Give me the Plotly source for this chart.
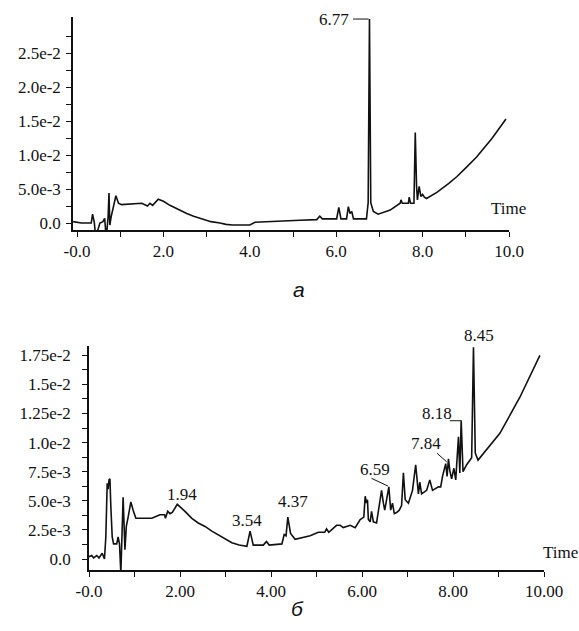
import plotly.graph_objects as go

# ---------------- data: chromatogram (a) ----------------
a_time = [-0.09, 0.0, 0.1, 0.2, 0.33, 0.36, 0.40, 0.42, 0.47, 0.53, 0.6, 0.64, 0.665, 0.69, 0.72,
          0.74, 0.76, 0.79, 0.82, 0.86, 0.9, 0.96, 1.03, 1.5, 1.63, 1.69, 1.75, 1.88, 2.0, 2.15,
          2.3, 2.54, 2.7, 2.92, 3.1, 3.31, 3.45, 3.6, 3.8, 4.0, 4.12, 4.93, 5.16, 5.55, 5.62, 5.68,
          6.01, 6.06, 6.11, 6.24, 6.28, 6.32, 6.36, 6.4, 6.7, 6.74, 6.77, 6.80, 6.86, 6.97, 7.25,
          7.48, 7.5, 7.53, 7.67, 7.69, 7.72, 7.8, 7.83, 7.86, 7.88, 7.92, 7.96, 8.0, 8.04, 8.09,
          8.33, 8.6, 8.79, 9.0, 9.25, 9.6, 9.93]
a_signal = [0.0002, 0.0001, 0.0, 0.0, 0.0, 0.0013, 0.0001, -0.0013, -0.0013, 0.0, 0.0002, 0.0007,
            -0.0013, -0.0013, 0.0009, 0.0044, -0.0003, 0.0009, 0.0019, 0.0029, 0.004, 0.0029,
            0.0027, 0.0029, 0.0025, 0.0029, 0.0026, 0.0035, 0.0032, 0.0026, 0.0021, 0.0014, 0.001,
            0.0005, 0.0002, 0.0, -0.0002, -0.0003, -0.0003, -0.0003, 0.0001, 0.0004, 0.0004,
            0.0005, 0.001, 0.0006, 0.0006, 0.0023, 0.0006, 0.0006, 0.0024, 0.0014, 0.0017, 0.0006,
            0.0006, 0.003, 0.030, 0.003, 0.0017, 0.0013, 0.0019, 0.0029, 0.0034, 0.0029, 0.0029,
            0.0038, 0.0029, 0.0029, 0.0133, 0.0054, 0.0034, 0.0054, 0.0039, 0.0042, 0.0038, 0.0036,
            0.0045, 0.0058, 0.0068, 0.0081, 0.0097, 0.0124, 0.0153]

a_peak_labels = ["6.77"]

a_xtick_vals = [0, 1, 2, 3, 4, 5, 6, 7, 8, 9, 10]
a_xtick_text = ["-0.0", "", "2.0", "", "4.0", "", "6.0", "", "8.0", "", "10.0"]
a_ytick_vals = [0, 0.0025, 0.005, 0.0075, 0.01, 0.0125, 0.015, 0.0175, 0.02, 0.0225, 0.025, 0.0275]
a_ytick_text = ["0.0", "", "5.0e-3", "", "1.0e-2", "", "1.5e-2", "", "2.0e-2", "", "2.5e-2", ""]

# ---------------- data: chromatogram (б) ----------------
b_time = [0.0, 0.06, 0.10, 0.17, 0.22, 0.29, 0.34, 0.37, 0.40, 0.42, 0.44, 0.46, 0.48, 0.51, 0.54,
          0.61, 0.64, 0.67, 0.70, 0.72, 0.75, 0.79, 0.82, 0.86, 0.92, 0.97, 1.03, 1.38, 1.56, 1.66,
          1.68, 1.73, 1.78, 1.83, 1.94, 2.11, 2.26, 2.4, 2.55, 2.7, 2.84, 3.0, 3.14, 3.3, 3.47,
          3.54, 3.61, 3.83, 3.9, 3.96, 4.24, 4.29, 4.33, 4.37, 4.43, 4.53, 4.86, 5.04, 5.18, 5.22,
          5.27, 5.44, 5.52, 5.59, 5.74, 5.85, 5.96, 6.04, 6.07, 6.1, 6.12, 6.14, 6.18, 6.21, 6.25,
          6.32, 6.38, 6.43, 6.47, 6.5, 6.59, 6.63, 6.67, 6.71, 6.76, 6.82, 6.87, 6.91, 6.95, 7.02,
          7.11, 7.18, 7.24, 7.27, 7.31, 7.42, 7.49, 7.55, 7.68, 7.73, 7.77, 7.84, 7.87, 7.9, 7.93,
          7.97, 8.02, 8.06, 8.12, 8.15, 8.18, 8.22, 8.3, 8.41, 8.45, 8.49, 8.55, 9.03, 9.47, 9.69,
          9.91]
b_signal = [0.0002, 0.0003, 0.0001, 0.0003, 0.0001, 0.0005, 0.0, 0.0019, 0.0065, 0.006, 0.0068,
            0.0069, 0.0045, 0.0019, 0.0013, 0.0013, 0.0019, 0.0013, -0.0012, 0.0016, 0.0053, 0.0008,
            0.0028, 0.0036, 0.0049, 0.0042, 0.0035, 0.0035, 0.0038, 0.0038, 0.0035, 0.0041, 0.0039,
            0.004, 0.0047, 0.0041, 0.0035, 0.0031, 0.0028, 0.0024, 0.0021, 0.0017, 0.0014, 0.0012,
            0.0011, 0.0024, 0.0012, 0.0012, 0.0015, 0.0012, 0.0013, 0.0021, 0.002, 0.0036, 0.0022,
            0.0017, 0.002, 0.0023, 0.0023, 0.0026, 0.0023, 0.0029, 0.0029, 0.0027, 0.0029, 0.0027,
            0.0034, 0.0036, 0.0054, 0.0048, 0.0051, 0.0034, 0.0032, 0.0041, 0.0032, 0.0031, 0.0048,
            0.0059, 0.0048, 0.0042, 0.0062, 0.0042, 0.0048, 0.0039, 0.004, 0.0042, 0.0046, 0.0074,
            0.0051, 0.0048, 0.0059, 0.0081, 0.0056, 0.0066, 0.0056, 0.0059, 0.0068, 0.0059, 0.0062,
            0.0062, 0.0071, 0.0082, 0.0071, 0.0086, 0.0076, 0.0069, 0.0078, 0.0068, 0.0105, 0.0074,
            0.0119, 0.0075, 0.0081, 0.0087, 0.0182, 0.0091, 0.0085, 0.0108, 0.0139, 0.0157, 0.0175]

b_peak_labels = ["1.94", "3.54", "4.37", "6.59", "7.84", "8.18", "8.45"]

b_xtick_vals = [0, 1, 2, 3, 4, 5, 6, 7, 8, 9, 10]
b_xtick_text = ["-0.0", "", "2.00", "", "4.00", "", "6.00", "", "8.00", "", "10.00"]
b_ytick_vals = [i * 0.00125 for i in range(15)]
b_ytick_text = ["0.0", "", "2.5e-3", "", "5.0e-3", "", "7.5e-3", "", "1.0e-2", "", "1.25e-2", "",
                "1.5e-2", "", "1.75e-2"]

# ---------------- figure ----------------
W, H = 579, 631
SERIF = "Times New Roman, Liberation Serif, serif"
SANS = "Arial, Liberation Sans, sans-serif"
INK = "#111111"

fig = go.Figure()
fig.add_trace(go.Scatter(x=a_time, y=a_signal, mode="lines", xaxis="x", yaxis="y",
                         line=dict(color=INK, width=1.6), showlegend=False, hoverinfo="skip"))
fig.add_trace(go.Scatter(x=b_time, y=b_signal, mode="lines", xaxis="x2", yaxis="y2",
                         line=dict(color=INK, width=1.6), showlegend=False, hoverinfo="skip"))

tickfont = dict(family=SERIF, size=17, color=INK)
common_axis = dict(showgrid=False, zeroline=False, showline=True, linecolor=INK, linewidth=1.5,
                   ticks="outside", ticklen=5, tickwidth=1.2, tickcolor=INK, tickfont=tickfont,
                   tickmode="array", automargin=False)

def px_dom_x(a, b):
    return [a / W, b / W]

def px_dom_y(top, bottom):
    return [1 - bottom / H, 1 - top / H]

fig.update_layout(
    template="none",
    font=dict(family=SERIF, size=17, color=INK),
    width=W, height=H, margin=dict(l=0, r=0, t=0, b=0, autoexpand=False),
    paper_bgcolor="white", plot_bgcolor="white",
    xaxis=dict(common_axis, domain=px_dom_x(73, 509), range=[-0.093, 10.0], anchor="y",
               tickvals=a_xtick_vals, ticktext=a_xtick_text),
    yaxis=dict(common_axis, domain=px_dom_y(17, 230), range=[-0.00103, 0.0303], anchor="x",
               tickvals=a_ytick_vals, ticktext=a_ytick_text, ticklabelstandoff=2),
    xaxis2=dict(common_axis, domain=px_dom_x(89, 544), range=[0.0, 10.0], anchor="y2",
                tickvals=b_xtick_vals, ticktext=b_xtick_text),
    yaxis2=dict(common_axis, domain=px_dom_y(346, 570), range=[-0.00094, 0.0183], anchor="x2",
                tickvals=b_ytick_vals, ticktext=b_ytick_text, ticklabelstandoff=8),
)

lab_font = dict(family=SERIF, size=17, color=INK)
ann = []
# chart (a)
ann.append(dict(x=5.95, y=0.0300, xref="x", yref="y", text=a_peak_labels[0], showarrow=False,
                font=lab_font))
ann.append(dict(x=9.98, y=0.0022, xref="x", yref="y", text="Time", showarrow=False, font=lab_font))
# chart (б)
b_label_pos = [(2.05, 0.00558), (3.47, 0.00335), (4.48, 0.00492), (6.29, 0.00765),
               (7.41, 0.00996), (7.65, 0.01254)]
for (lx, ly), t in zip(b_label_pos, b_peak_labels[:6]):
    ann.append(dict(x=lx, y=ly, xref="x2", yref="y2", text=t, showarrow=False, font=lab_font))
ann.append(dict(x=8.57, y=1 - 335 / H, xref="x2", yref="paper", text=b_peak_labels[6],
                showarrow=False, font=lab_font))
ann.append(dict(x=9.93, y=0.0006, xref="x2", yref="y2", text="Time", showarrow=False,
                xanchor="left", font=lab_font))
# panel letters
ann.append(dict(x=299 / W, y=1 - 289 / H, xref="paper", yref="paper", text="<i>а</i>",
                showarrow=False, font=dict(family=SANS, size=21, color=INK)))
ann.append(dict(x=297 / W, y=1 - 622 / H, xref="paper", yref="paper", text="<i>б</i>",
                showarrow=False, font=dict(family=SANS, size=21, color=INK)))
fig.update_layout(annotations=ann)

# leader lines
shapes = [
    dict(type="line", xref="x", yref="y", x0=6.39, x1=6.75, y0=0.0300, y1=0.0300,
         line=dict(color=INK, width=1)),
    dict(type="line", xref="x2", yref="y2", x0=6.21, y0=0.00693, x1=6.57, y1=0.00627,
         line=dict(color=INK, width=1)),
    dict(type="line", xref="x2", yref="y2", x0=7.65, y0=0.00908, x1=7.86, y1=0.00836,
         line=dict(color=INK, width=1)),
    dict(type="line", xref="x2", yref="y2", x0=7.93, y0=0.01188, x1=8.18, y1=0.01188,
         line=dict(color=INK, width=1)),
]
fig.update_layout(shapes=shapes)

fig.write_html("out.html", config={"displayModeBar": False},
               post_script="document.body.style.margin='0';document.body.style.overflow='hidden';")
